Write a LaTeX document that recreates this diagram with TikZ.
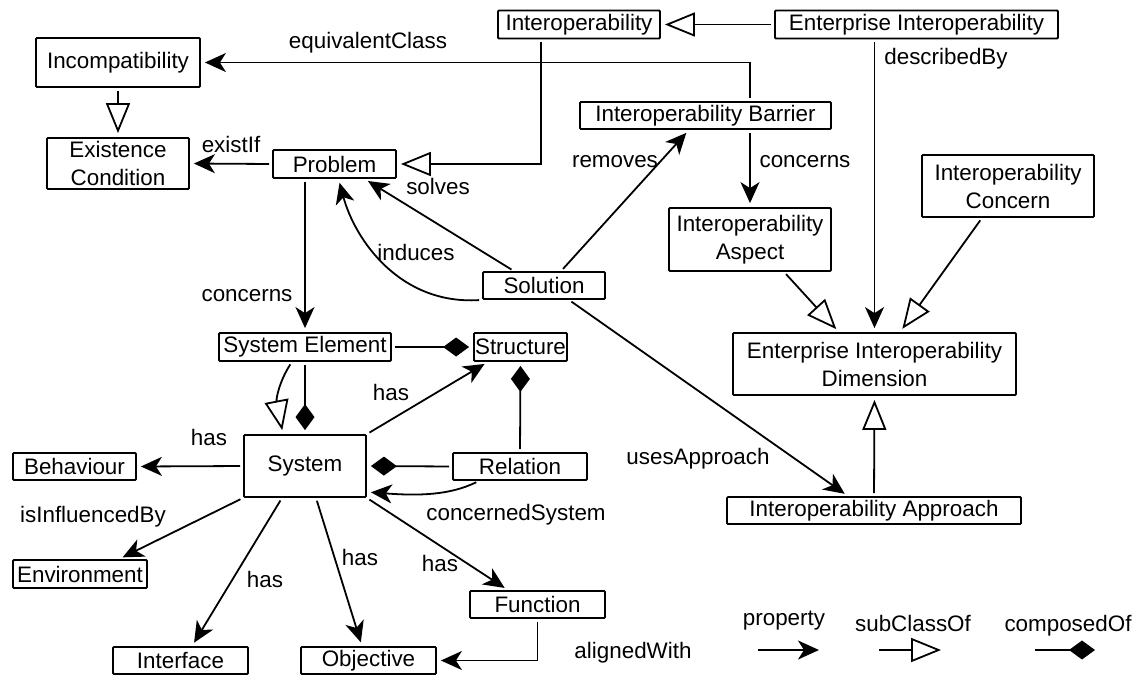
\documentclass[tikz,border=0pt]{standalone}
\usepackage{fontspec}
\setmainfont{Liberation Sans}
\usetikzlibrary{arrows.meta}
\begin{document}
\begin{tikzpicture}[x=1pt,y=-1pt,
  box/.style={draw, line width=1.8pt, inner sep=0pt, align=center, font=\fontsize{22.4}{28}\selectfont, rounded corners=1pt},
  wh/.style 2 args={minimum width=#1pt, minimum height=#2pt},
  lbl/.style={inner sep=0pt, text height=16pt, text depth=5pt, font=\fontsize{22.4}{28}\selectfont},
  conn/.style={line width=1.8pt, shorten >=4pt, shorten <=3pt},
  prop/.style={conn, -{Stealth[length=21pt,width=19pt,inset=6pt]}},
  sub/.style={conn, -{Triangle[open,length=30pt,width=24pt]}},
  comp/.style={conn, -{Diamond[length=26pt,width=19pt]}},
]
\useasboundingbox (0,0) rectangle (1139,675);

% boxes
\node[box, wh={162}{28}] (interop) at (579,24.5) {Interoperability};
\node[box, wh={283}{28}] (ei) at (916.5,24.5) {Enterprise Interoperability};
\node[box, wh={164}{49}] (incomp) at (118,62.5) {Incompatibility};
\node[box, wh={142}{51}] (exist) at (118,163.5) {Existence\\Condition};
\node[box, wh={123}{28}] (problem) at (334.5,164) {Problem};
\node[box, wh={251}{27}] (barrier) at (705.5,115.5) {Interoperability Barrier};
\node[box, wh={162}{63}] (aspect) at (750,239.5) {Interoperability\\Aspect};
\node[box, wh={172}{62}] (concern) at (1008,186) {Interoperability\\Concern};
\node[box, wh={283}{62}] (eid) at (874.5,364) {Enterprise Interoperability\\Dimension};
\node[box, wh={294}{27}] (approach) at (874,510.5) {Interoperability Approach};
\node[box, wh={122}{27}] (solution) at (544,285.5) {Solution};
\node[box, wh={172}{28}] (se) at (305,347) {System Element};
\node[box, wh={93}{28}] (structure) at (520.5,347) {Structure};
\node[box, wh={122}{62}] (system) at (305,466) {System};
\node[box, wh={123}{27}] (behaviour) at (74.5,466.5) {Behaviour};
\node[box, wh={134}{27}] (relation) at (520,466.5) {Relation};
\node[box, wh={134}{28}] (environment) at (80,574) {Environment};
\node[box, wh={135}{27}] (function) at (537.5,604.5) {Function};
\node[box, wh={135}{27}] (interface) at (180.5,660.5) {Interface};
\node[box, wh={135}{27}] (objective) at (368.5,660.5) {Objective};

% connectors
\draw[sub] (ei.west) -- (interop.east);
\draw[prop] (barrier.north -| 750,0) |- (incomp.east);
\draw[sub] (interop.south -| 541,0) |- (problem.east);
\draw[sub] (incomp.south) -- (exist.north);
\draw[prop] (problem.west) -- (exist.east);
\draw[prop] ([xshift=-30pt]solution.north) -- ([xshift=30pt]problem.south);
\draw[prop] (solution.south west) .. controls (400,305) and (355,240) .. ([xshift=4pt]problem.south);
\draw[prop] ([xshift=17pt]solution.north) -- ([xshift=-16.5pt]barrier.south);
\draw[prop] (aspect.north |- barrier.south) -- (aspect.north);
\draw[prop] (eid.north |- ei.south) -- (eid.north);
\draw[sub] ([xshift=34pt]aspect.south) -- ([xshift=-35.5pt]eid.north);
\draw[sub] ([xshift=-26pt]concern.south) -- ([xshift=25.5pt]eid.north);
\draw[sub] (approach.north) -- (eid.south);
\draw[prop] ([xshift=25pt]solution.south) -- ([xshift=-26pt]approach.north);
\draw[prop] (se.north |- problem.south) -- (se.north);
\draw[comp] (se.east) -- (structure.west);
\draw[sub] ([xshift=-13pt]se.south) .. controls (280,380) and (276,398) .. ([xshift=-22pt]system.north);
\draw[comp] (se.south) -- (system.north);
\draw[prop] (system.west) -- (behaviour.east);
\draw[prop] (system.south west) -- ([xshift=39pt]environment.north);
\draw[prop] ([xshift=-23pt]system.south) -- ([xshift=11.5pt]interface.north);
\draw[prop] ([xshift=11pt]system.south) -- ([xshift=-6.5pt]objective.north);
\draw[prop] (system.south east) -- ([xshift=-29.5pt]function.north);
\draw[prop] (system.north east) -- ([xshift=-32.5pt]structure.south);
\draw[comp] (relation.west) -- (system.east);
\draw[prop] ([xshift=-41pt]relation.south) .. controls (450,495) and (420,496) .. ([yshift=-26pt]system.east);
\draw[comp] (relation.north) -- (structure.south);
\draw[prop] (function.south) |- (objective.east);

% labels
\node[lbl] (l1) at (368,43) {equivalentClass};
\node[lbl] (l2) at (231,147) {existIf};
\node[lbl] (l3) at (438,189) {solves};
\node[lbl] (l4) at (416,255) {induces};
\node[lbl] (l5) at (615,162) {removes};
\node[lbl] (l6) at (805,162) {concerns};
\node[lbl] (l7) at (946,59) {describedBy};
\node[lbl] (l8) at (247,296) {concerns};
\node[lbl] (l9) at (698,459) {usesApproach};
\node[lbl] (l10) at (209,440) {has};
\node[lbl] (l11) at (93,517) {isInfluencedBy};
\node[lbl] (l12) at (265,582) {has};
\node[lbl] (l13) at (360,560) {has};
\node[lbl] (l14) at (440,566) {has};
\node[lbl] (l15) at (391,395) {has};
\node[lbl] (l16) at (516,515) {concernedSystem};
\node[lbl] (l17) at (633,653) {alignedWith};

% legend
\node[lbl] (lg1) at (784,620) {property};
\node[lbl] (lg2) at (913,626) {subClassOf};
\node[lbl] (lg3) at (1068,626) {composedOf};
\coordinate (pa) at (755,650);
\coordinate (pb) at (823,650);
\coordinate (sa) at (876,650);
\coordinate (sb) at (945,650);
\coordinate (ca) at (1032,650);
\coordinate (cb) at (1099,650);
\draw[prop] (pa) -- (pb);
\draw[sub] (sa) -- (sb);
\draw[comp] (ca) -- (cb);
\end{tikzpicture}
\end{document}
